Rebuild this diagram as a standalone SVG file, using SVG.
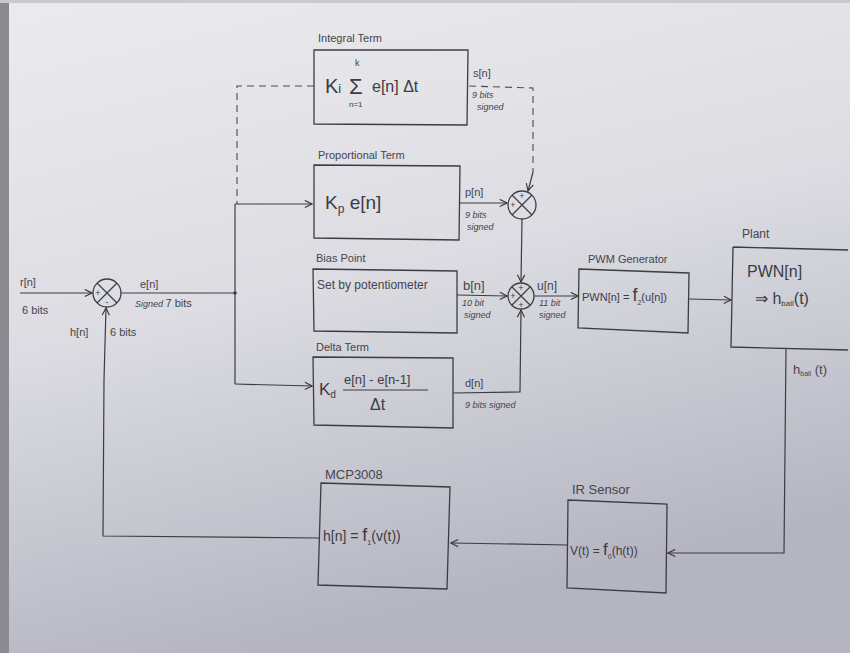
<svg xmlns="http://www.w3.org/2000/svg" width="850" height="653" viewBox="0 0 850 653">
<defs>
<linearGradient id="paper" x1="0" y1="0" x2="0.3" y2="1">
<stop offset="0" stop-color="#ebebef"/>
<stop offset="0.5" stop-color="#dcdce2"/>
<stop offset="1" stop-color="#b4b5c1"/>
</linearGradient>
<marker id="arr" viewBox="0 0 10 10" refX="9" refY="5" markerWidth="9" markerHeight="9" orient="auto" markerUnits="userSpaceOnUse">
<path d="M1,1 L9,5 L1,9" fill="none" stroke="#3a3a40" stroke-width="1.3"/>
</marker>
<style>
.box{fill:none;stroke:#3c3c44;stroke-width:1.3}
.ln{fill:none;stroke:#3c3c44;stroke-width:1.2}
.dash{fill:none;stroke:#4a4a52;stroke-width:1.1;stroke-dasharray:7 5}
.lbl{font-family:"Liberation Sans",Arial,sans-serif;font-size:11px;fill:#45454d}
.sm{font-family:"Liberation Sans",Arial,sans-serif;font-size:9px;fill:#45454d;font-style:italic}
.eq{font-family:"Liberation Sans",Arial,sans-serif;font-size:15px;fill:#3c3c44}
.sig{font-family:"Liberation Sans",Arial,sans-serif;font-size:12px;fill:#3c3c44}
.pl{font-family:"Liberation Sans",Arial,sans-serif;font-size:9px;fill:#3c3c44;text-anchor:middle}
</style>
</defs>
<rect x="0" y="0" width="850" height="653" fill="url(#paper)"/>
<rect x="0" y="0" width="9" height="653" fill="#8a8a90"/>
<rect x="0" y="0" width="850" height="3" fill="#c9c9cf"/>

<g id="connectors">
<path class="ln" d="M20,293 L92,293" marker-end="url(#arr)"/>
<path class="ln" d="M121,293 L235,293"/>
<circle cx="235" cy="293" r="1.8" fill="#3c3c44"/>
<path class="ln" d="M235,204 L235,384"/>
<path class="ln" d="M235,204 L312,204" marker-end="url(#arr)"/>
<path class="ln" d="M235,384 L312,386" marker-end="url(#arr)"/>
<path class="dash" d="M314,86 L237,86 L237,204"/>
<path class="dash" d="M469,86 L533,88 L533,172"/>
<path class="ln" d="M533,172 L528,191" marker-end="url(#arr)"/>
<path class="ln" d="M460,203 L507,203" marker-end="url(#arr)"/>
<path class="ln" d="M522,219 L521,282" marker-end="url(#arr)"/>
<path class="ln" d="M457,295 L507,296" marker-end="url(#arr)"/>
<path class="ln" d="M453,393 L520,392 L521,310" marker-end="url(#arr)"/>
<path class="ln" d="M534,296 L578,296" marker-end="url(#arr)"/>
<path class="ln" d="M689,299 L731,300" marker-end="url(#arr)"/>
<path class="ln" d="M786,348 L784,553 L668,553" marker-end="url(#arr)"/>
<path class="ln" d="M568,545 L451,543" marker-end="url(#arr)"/>
<path class="ln" d="M320,538 L103,536 L104,380"/>
<path class="ln" d="M104,380 L106,308" marker-end="url(#arr)"/>
</g>

<g id="summer0">
<circle class="box" cx="107" cy="293" r="14"/>
<path class="ln" d="M97,283 L117,303 M117,283 L97,303"/>
<text class="pl" x="98" y="296">+</text>
<text class="pl" x="107" y="305">-</text>
</g>
<g id="summer1">
<circle class="box" cx="522" cy="205" r="14"/>
<path class="ln" d="M512,195 L532,215 M532,195 L512,215"/>
<text class="pl" x="513" y="208">+</text>
<text class="pl" x="522" y="199">+</text>
</g>
<g id="summer2">
<circle class="box" cx="521" cy="296" r="13"/>
<path class="ln" d="M512,287 L530,305 M530,287 L512,305"/>
<text class="pl" x="513" y="299">+</text>
<text class="pl" x="521" y="291">+</text>
<text class="pl" x="521" y="308">+</text>
</g>

<g id="labels-left">
<text class="lbl" x="20" y="286">r[n]</text>
<text class="lbl" x="22" y="314">6 bits</text>
<text class="lbl" x="140" y="288">e[n]</text>
<text class="sm" x="135" y="307">Signed  <tspan style="font-size:11px;font-style:normal">7 bits</tspan></text>
<text class="lbl" x="70" y="336">h[n]</text>
<text class="lbl" x="110" y="336">6 bits</text>
</g>

<g id="integral">
<text class="lbl" x="318" y="42">Integral Term</text>
<path class="box" d="M314,50 L468,50 L467,125 L314,124 Z"/>
<text class="sig" x="355" y="66" style="font-size:9px">k</text>
<text class="eq" x="325" y="93" style="font-size:20px">K<tspan style="font-size:13px">i</tspan></text>
<text class="eq" x="349" y="94" style="font-size:22px">Σ</text>
<text class="sig" x="349" y="107" style="font-size:8px">n=1</text>
<text class="eq" x="372" y="92" style="font-size:16px">e[n] Δt</text>
<text class="lbl" x="473" y="77">s[n]</text>
<text class="sm" x="472" y="98">9 bits</text>
<text class="sm" x="477" y="110">signed</text>
</g>

<g id="proportional">
<text class="lbl" x="318" y="159">Proportional Term</text>
<path class="box" d="M314,165 L460,166 L459,240 L314,238 Z"/>
<text class="eq" x="325" y="209" style="font-size:19px">K<tspan style="font-size:12px" dy="4">p</tspan><tspan dy="-4"> e[n]</tspan></text>
<text class="lbl" x="465" y="196">p[n]</text>
<text class="sm" x="465" y="218">9 bits</text>
<text class="sm" x="467" y="230">signed</text>
</g>

<g id="bias">
<text class="lbl" x="316" y="262">Bias Point</text>
<path class="box" d="M313,269 L457,271 L457,333 L314,331 Z"/>
<text class="lbl" x="317" y="289" style="font-size:12px">Set by potentiometer</text>
<text class="lbl" x="463" y="290" style="font-size:13px">b[n]</text>
<text class="sm" x="462" y="306">10 bit</text>
<text class="sm" x="464" y="318">signed</text>
<text class="lbl" x="537" y="290" style="font-size:12px">u[n]</text>
<text class="sm" x="539" y="306">11 bit</text>
<text class="sm" x="539" y="318">signed</text>
</g>

<g id="delta">
<text class="lbl" x="316" y="351">Delta Term</text>
<path class="box" d="M313,357 L453,358 L453,428 L314,425 Z"/>
<text class="eq" x="319" y="395" style="font-size:17px">K<tspan style="font-size:10px" dy="3">d</tspan></text>
<text class="sig" x="344" y="384" style="font-size:13px">e[n] - e[n-1]</text>
<path class="ln" d="M343,390 L428,390"/>
<text class="eq" x="370" y="410" style="font-size:16px">Δt</text>
<text class="lbl" x="465" y="387">d[n]</text>
<text class="sm" x="465" y="408">9 bits signed</text>
</g>

<g id="pwm">
<text class="lbl" x="588" y="263">PWM Generator</text>
<path class="box" d="M579,269 L689,273 L688,333 L578,328 Z"/>
<text class="sig" x="582" y="301" style="font-size:11px">PWN[n] = <tspan style="font-size:18px">f</tspan><tspan style="font-size:7px" dy="4">2</tspan><tspan dy="-4">(u[n])</tspan></text>
</g>

<g id="plant">
<text class="lbl" x="742" y="238" style="font-size:12px">Plant</text>
<path class="box" d="M733,247 L848,250 M733,247 L731,347 L848,350"/>
<text class="eq" x="747" y="277" style="font-size:16px">PWN[n]</text>
<text class="eq" x="755" y="304" style="font-size:16px">⇒ h<tspan style="font-size:8px" dy="2">ball</tspan><tspan dy="-2">(t)</tspan></text>
<text class="lbl" x="793" y="374" style="font-size:13px">h<tspan style="font-size:7px" dy="2">ball</tspan><tspan dy="-2"> (t)</tspan></text>
</g>

<g id="ir">
<text class="lbl" x="572" y="494" style="font-size:13px">IR Sensor</text>
<path class="box" d="M568,500 L667,504 L666,593 L567,588 Z"/>
<text class="sig" x="570" y="555" style="font-size:12px">V(t) = <tspan style="font-size:17px">f</tspan><tspan style="font-size:7px" dy="4">0</tspan><tspan dy="-4">(h(t))</tspan></text>
</g>

<g id="mcp">
<text class="lbl" x="325" y="479" style="font-size:13px">MCP3008</text>
<path class="box" d="M321,483 L450,487 L447,589 L318,585 Z"/>
<text class="sig" x="323" y="541" style="font-size:14px">h[n] = <tspan style="font-size:18px">f</tspan><tspan style="font-size:7px" dy="4">1</tspan><tspan dy="-4">(v(t))</tspan></text>
</g>
</svg>
